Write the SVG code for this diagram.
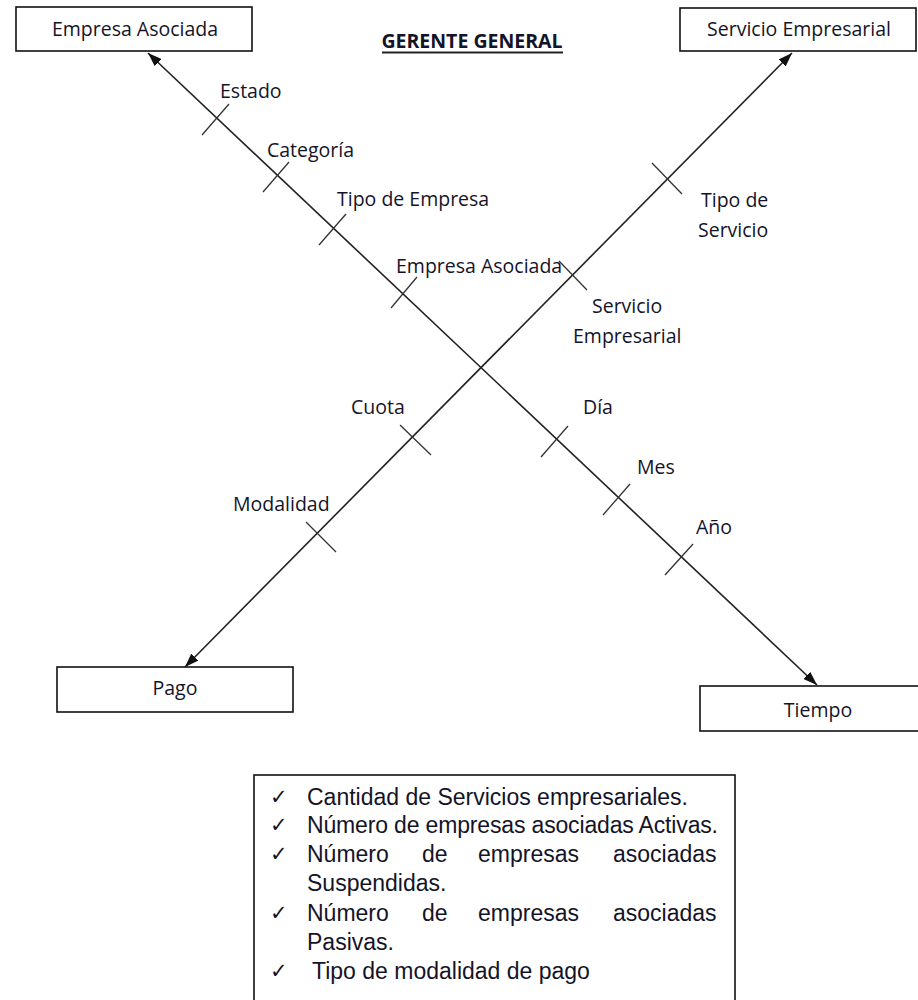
<svg xmlns="http://www.w3.org/2000/svg" width="918" height="1000" viewBox="0 0 918 1000">
  <style>
    .box { fill: #ffffff; stroke: #111111; stroke-width: 1.6; }
    .lbl { font-family: "Open Sans", "Liberation Sans", sans-serif; font-size: 19.5px; fill: #141428; }
    .mid { text-anchor: middle; }
    .axis { stroke: #222222; stroke-width: 1.6; fill: none; }
    .tick { stroke: #333333; stroke-width: 1.3; }
    .title { font-family: "Open Sans", "Liberation Sans", sans-serif; font-size: 19.5px; font-weight: bold; fill: #141428; }
    .list { font-family: "Liberation Sans", Arial, sans-serif; font-size: 23px; fill: #141428; }
    .chk { font-family: "DejaVu Sans", sans-serif; font-size: 21px; fill: #141428; }
  </style>
  <defs>
    <marker id="arrow" markerUnits="userSpaceOnUse" markerWidth="14" markerHeight="10" refX="14" refY="5" orient="auto-start-reverse">
      <path d="M0,0 L14,5 L0,10 z" fill="#111111"/>
    </marker>
  </defs>

  <rect width="918" height="1000" fill="#ffffff"/>

  <!-- title -->
  <g id="title">
    <text class="title" x="472" y="48" text-anchor="middle">GERENTE GENERAL</text>
    <line x1="382" y1="52.5" x2="563" y2="52.5" stroke="#222222" stroke-width="1.8"/>
  </g>

  <!-- dimension boxes -->
  <g id="node-empresa-asociada">
    <rect class="box" x="16" y="7" width="236" height="44"/>
    <text class="lbl mid" x="135" y="36">Empresa Asociada</text>
  </g>
  <g id="node-servicio-empresarial">
    <rect class="box" x="680" y="8" width="236" height="43"/>
    <text class="lbl mid" x="799" y="36">Servicio Empresarial</text>
  </g>
  <g id="node-pago">
    <rect class="box" x="57" y="667" width="236" height="45"/>
    <text class="lbl mid" x="175" y="695">Pago</text>
  </g>
  <g id="node-tiempo">
    <rect class="box" x="700" y="686" width="240" height="45"/>
    <text class="lbl mid" x="818" y="717">Tiempo</text>
  </g>

  <!-- axes with attribute ticks -->
  <g id="connectors">
    <line class="axis" x1="148" y1="53" x2="817" y2="685" marker-start="url(#arrow)" marker-end="url(#arrow)"/>
    <line class="axis" x1="185" y1="667" x2="792" y2="53" marker-start="url(#arrow)" marker-end="url(#arrow)"/>

    <!-- ticks on Empresa Asociada / Tiempo axis -->
    <line class="tick" x1="202" y1="135" x2="229" y2="104"/>
    <line class="tick" x1="263" y1="192" x2="289" y2="162"/>
    <line class="tick" x1="319" y1="245" x2="346" y2="214"/>
    <line class="tick" x1="391" y1="308" x2="417" y2="277"/>
    <line class="tick" x1="541" y1="457" x2="568" y2="426"/>
    <line class="tick" x1="603" y1="515" x2="630" y2="484"/>
    <line class="tick" x1="665" y1="575" x2="693" y2="544"/>

    <!-- ticks on Pago / Servicio Empresarial axis -->
    <line class="tick" x1="652" y1="163" x2="682" y2="194"/>
    <line class="tick" x1="559" y1="261" x2="587" y2="290"/>
    <line class="tick" x1="400" y1="425" x2="431" y2="455"/>
    <line class="tick" x1="306" y1="522" x2="336" y2="552"/>
  </g>

  <!-- attribute labels -->
  <g id="labels">
    <text class="lbl" x="220" y="98">Estado</text>
    <text class="lbl" x="267" y="157">Categoría</text>
    <text class="lbl" x="337" y="206">Tipo de Empresa</text>
    <text class="lbl" x="396" y="273">Empresa Asociada</text>
    <text class="lbl" x="592" y="313">Servicio</text>
    <text class="lbl" x="573" y="343">Empresarial</text>
    <text class="lbl" x="701" y="207">Tipo de</text>
    <text class="lbl" x="698" y="237">Servicio</text>
    <text class="lbl" x="583" y="414">Día</text>
    <text class="lbl" x="637" y="474">Mes</text>
    <text class="lbl" x="696" y="534">Año</text>
    <text class="lbl" x="351" y="414">Cuota</text>
    <text class="lbl" x="233" y="511">Modalidad</text>
  </g>

  <!-- indicator list -->
  <g id="indicators">
    <rect class="box" x="254" y="775" width="481" height="240"/>
    <text class="chk" x="270" y="804">✓</text>
    <text class="list" x="307" y="805">Cantidad de Servicios empresariales.</text>
    <text class="chk" x="270" y="832">✓</text>
    <text class="list" x="307" y="833" textLength="411" lengthAdjust="spacing">Número de empresas asociadas Activas.</text>
    <text class="chk" x="270" y="861">✓</text>
    <text class="list" y="862"><tspan x="307">Número</tspan><tspan x="422">de</tspan><tspan x="478">empresas</tspan><tspan x="613">asociadas</tspan></text>
    <text class="list" x="307" y="891">Suspendidas.</text>
    <text class="chk" x="270" y="920">✓</text>
    <text class="list" y="921"><tspan x="307">Número</tspan><tspan x="422">de</tspan><tspan x="478">empresas</tspan><tspan x="613">asociadas</tspan></text>
    <text class="list" x="307" y="950">Pasivas.</text>
    <text class="chk" x="270" y="978">✓</text>
    <text class="list" x="312" y="979">Tipo de modalidad de pago</text>
  </g>
</svg>
